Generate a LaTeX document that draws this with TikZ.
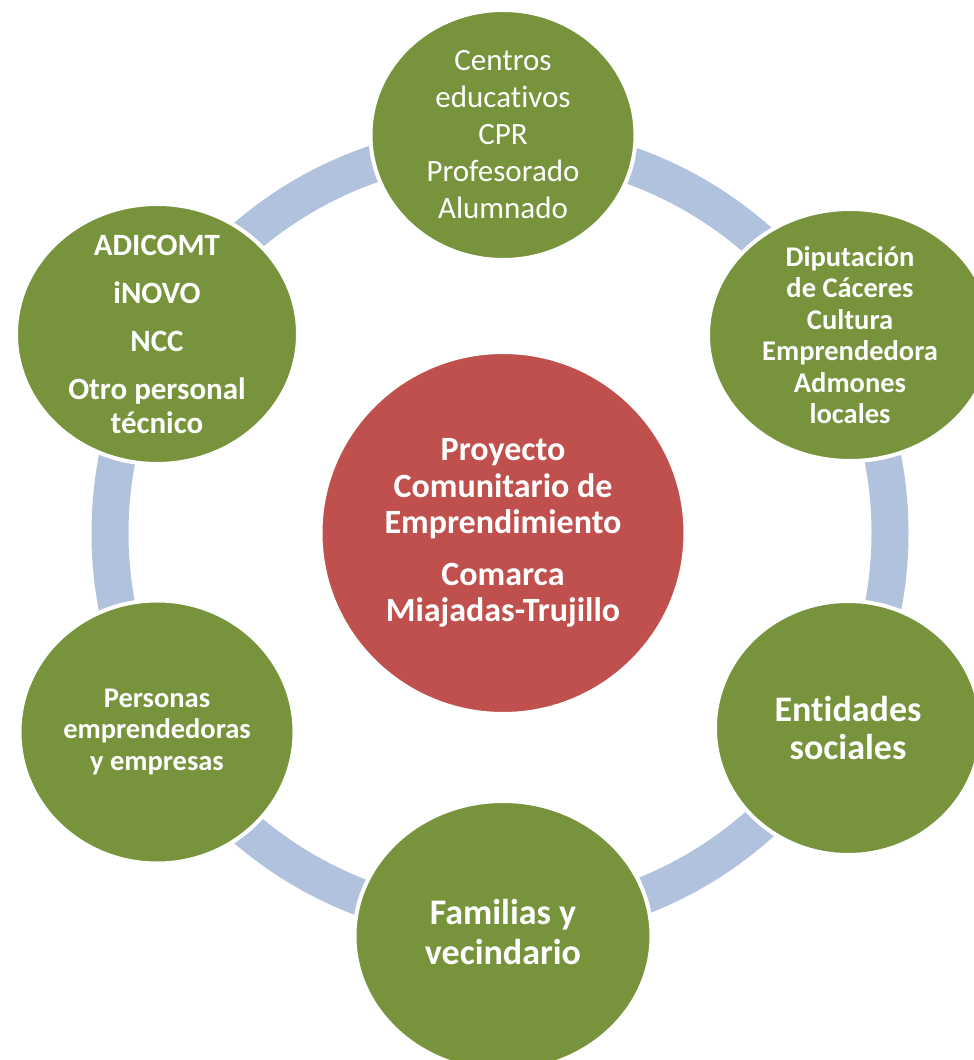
\documentclass[tikz,border=0pt]{standalone}
\usepackage{fontspec}
\setmainfont{Carlito}[Ligatures=NoCommon]
\usepackage{tikz}
\usetikzlibrary{shapes.geometric,positioning}

\definecolor{leaf}{HTML}{77933C}
\definecolor{brick}{HTML}{C0504D}
\definecolor{band}{HTML}{B0C2DD}

\begin{document}
\begin{tikzpicture}[x=1pt, y=1pt,
    member/.style={ellipse, fill=leaf, draw=white, line width=4pt, inner sep=0pt},
    hub/.style={ellipse, fill=brick, draw=white, line width=4pt, inner sep=0pt},
    lbl/.style={text=white, align=center, inner sep=0pt}]
    \useasboundingbox (0,0) rectangle (974,1060);

    % Ring behind the circles
    \coordinate (o) at (500,527);
    \draw[band, line width=37pt] (o) circle (390);

    % Partner circles
    \foreach \n/\x/\y/\w/\h in {top/503/925/265/250, ul/157/726/282/260,
        ur/850/725/284/252, lr/848/332/266/254, ll/157/328/275/263, bot/503/124/297/270} {
        \node[member, minimum width=\w, minimum height=\h] (\n) at (\x,\y) {};
    }

    % Central project
    \node[hub, minimum width=365, minimum height=362] (hub) at (503,527) {};

    % Labels
    \node[lbl, font=\fontsize{31}{37}\selectfont] (top-t) at (top)
        {Centros\\educativos\\CPR\\Profesorado\\Alumnado};
    \node[lbl, font=\fontsize{31}{34}\selectfont\bfseries] (ul-t) at (ul)
        {ADICOMT\\[14pt]iNOVO\\[14pt]NCC\\[14pt]Otro personal\\técnico};
    \node[lbl, font=\fontsize{28.5}{31.5}\selectfont\bfseries] (ur-t) at (ur)
        {Diputación\\de Cáceres\\Cultura\\Emprendedora\\Admones\\locales};
    \node[lbl, font=\fontsize{36}{38.5}\selectfont\bfseries] (lr-t) at (lr)
        {Entidades\\sociales};
    \node[lbl, font=\fontsize{36}{39.5}\selectfont\bfseries] (bot-t) at ([yshift=4]bot)
        {Familias y\\vecindario};
    \node[lbl, font=\fontsize{28.5}{31.5}\selectfont\bfseries] (ll-t) at (ll)
        {Personas\\emprendedoras\\y empresas};
    \node[lbl, font=\fontsize{34}{36.5}\selectfont\bfseries] (hub-t) at (hub)
        {Proyecto\\Comunitario de\\Emprendimiento\\[15pt]Comarca\\Miajadas-Trujillo};

\end{tikzpicture}
\end{document}
